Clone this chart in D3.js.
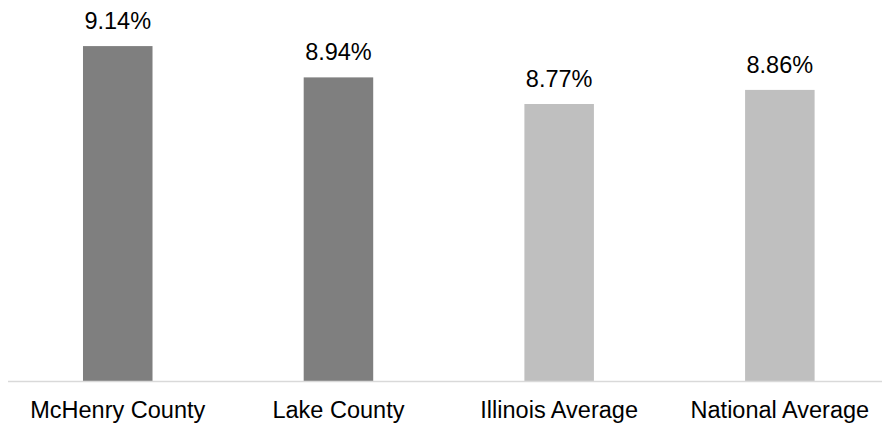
<!DOCTYPE html>
<html>
<head>
<meta charset="utf-8">
<script src="https://cdn.jsdelivr.net/npm/d3@7/dist/d3.min.js"></script>
<style>
  html, body { margin: 0; padding: 0; background: #fff; }
  svg { display: block; }
</style>
</head>
<body>
<svg id="chart" width="882" height="424"></svg>
<script>
// Rate by area (percent)
const categories = ["McHenry County", "Lake County", "Illinois Average", "National Average"];
const values = [9.14, 8.94, 8.77, 8.86];
const barColors = ["#7f7f7f", "#7f7f7f", "#bfbfbf", "#bfbfbf"];

const width = 882, height = 424;
const baseY = 381;
const fontFamily = "'Liberation Sans', Arial, Helvetica, sans-serif";

const svg = d3.select("#chart");

// The plot area runs slightly past the right edge of the canvas
const x = d3.scaleBand()
  .domain(categories)
  .range([7.4, 890.2])
  .paddingInner(0.685)
  .paddingOuter(0.3425);

const y = d3.scaleLinear()
  .domain([7, 9.4])
  .range([baseY, 5.4]);

// Bars
svg.append("g")
  .selectAll("rect")
  .data(values)
  .join("rect")
  .attr("x", (d, i) => x(categories[i]))
  .attr("y", d => y(d))
  .attr("width", x.bandwidth())
  .attr("height", d => y.range()[0] - y(d))
  .attr("fill", (d, i) => barColors[i]);

// Value labels above bars
svg.append("g")
  .selectAll("text")
  .data(values)
  .join("text")
  .attr("x", (d, i) => x(categories[i]) + x.bandwidth() / 2)
  .attr("y", d => y(d) - 17)
  .attr("text-anchor", "middle")
  .attr("font-family", fontFamily)
  .attr("font-size", "23.5px")
  .attr("fill", "#000")
  .text(d => d.toFixed(2) + "%");

// Category axis
const axis = svg.append("g")
  .attr("transform", `translate(0,${baseY})`)
  .call(d3.axisBottom(x).tickSize(0).tickPadding(20));

axis.select(".domain")
  .attr("d", `M8,0.5H${width}`)
  .attr("stroke", "#d9d9d9")
  .attr("stroke-width", 1.3);

axis.selectAll(".tick text")
  .attr("font-family", fontFamily)
  .attr("font-size", "23.5px")
  .attr("fill", "#000")
  .attr("dy", "0.71em");
</script>
</body>
</html>
